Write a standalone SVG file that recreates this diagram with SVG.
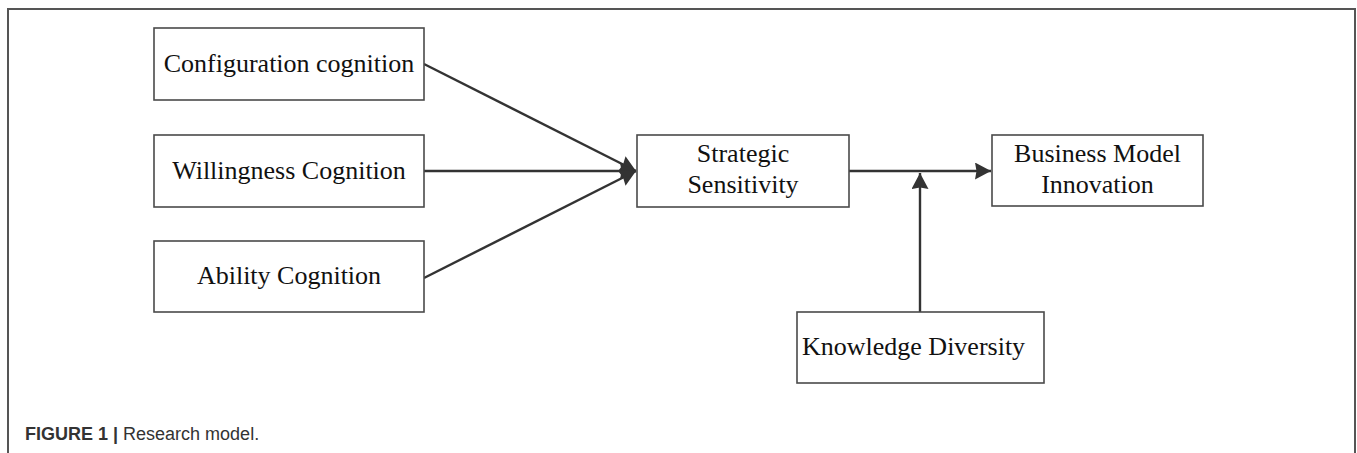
<svg xmlns="http://www.w3.org/2000/svg" width="1357" height="453" viewBox="0 0 1357 453">
<style>
.box{fill:#fff;stroke:#4a4a4a;stroke-width:1.6}
.lbl{font-family:"Liberation Serif","Times New Roman",serif;font-size:26px;fill:#111}
.conn{stroke:#333;stroke-width:2.4;fill:none}
.cap{font-family:"Liberation Sans",Arial,sans-serif;font-size:18px;fill:#333}
</style>
<defs>
<marker id="ah" markerUnits="userSpaceOnUse" markerWidth="18" markerHeight="18" refX="16" refY="8.5" orient="auto" viewBox="0 0 18 18">
<path d="M0,0 L16,8.5 L0,17 L1.5,8.5 z" fill="#333"/>
</marker>
</defs>
<rect width="1357" height="453" fill="#fff"/>
<path d="M8,453 L8,9 L1355,9 L1355,453" fill="none" stroke="#555" stroke-width="2"/>
<g id="connectors">
<line class="conn" x1="424" y1="64" x2="636" y2="171" marker-end="url(#ah)"/>
<line class="conn" x1="424" y1="171" x2="636" y2="171" marker-end="url(#ah)"/>
<line class="conn" x1="424" y1="278" x2="636" y2="171" marker-end="url(#ah)"/>
<line class="conn" x1="849" y1="171" x2="991" y2="171" marker-end="url(#ah)"/>
<line class="conn" x1="920" y1="312" x2="920" y2="173" marker-end="url(#ah)"/>
</g>
<g id="config">
<rect class="box" x="154" y="28" width="270" height="72"/>
<text class="lbl" x="289" y="72" text-anchor="middle">Configuration cognition</text>
</g>
<g id="willingness">
<rect class="box" x="154" y="135" width="270" height="72"/>
<text class="lbl" x="289" y="179" text-anchor="middle">Willingness Cognition</text>
</g>
<g id="ability">
<rect class="box" x="154" y="241" width="270" height="71"/>
<text class="lbl" x="289" y="284" text-anchor="middle">Ability Cognition</text>
</g>
<g id="strategic">
<rect class="box" x="637" y="135" width="212" height="72"/>
<text class="lbl" x="743" y="162" text-anchor="middle">Strategic</text>
<text class="lbl" x="743" y="193" text-anchor="middle">Sensitivity</text>
</g>
<g id="bmi">
<rect class="box" x="992" y="135" width="211" height="71"/>
<text class="lbl" x="1097.5" y="162" text-anchor="middle">Business Model</text>
<text class="lbl" x="1097.5" y="193" text-anchor="middle">Innovation</text>
</g>
<g id="knowledge">
<rect class="box" x="797" y="312" width="247" height="71"/>
<text class="lbl" x="802" y="355">Knowledge Diversity</text>
</g>
<text class="cap" x="25" y="440"><tspan font-weight="bold">FIGURE 1 | </tspan>Research model.</text>
</svg>
